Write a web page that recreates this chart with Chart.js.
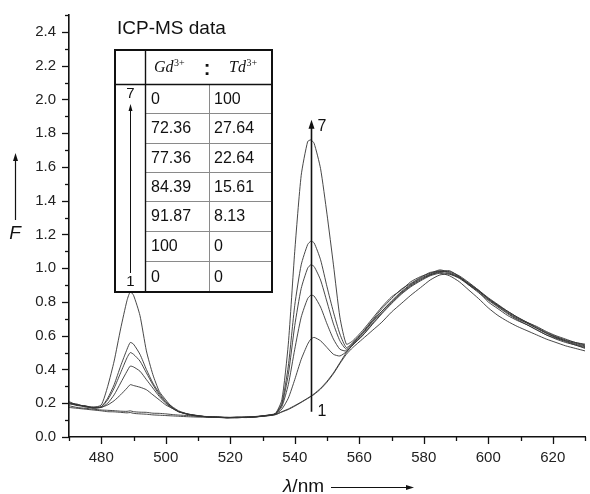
<!DOCTYPE html>
<html>
<head>
<meta charset="utf-8">
<script src="https://cdn.jsdelivr.net/npm/chart.js@4"></script>
<style>
  html, body { margin: 0; padding: 0; background: #fff; }
  #wrap { width: 590px; height: 494px; }
</style>
</head>
<body>
<div id="wrap"><canvas id="chart" width="590" height="494"></canvas></div>
<script>
// emission spectra, λ in nm, F in a.u.
const wavelengths = [
  470, 472.5, 475, 477.5, 480, 482, 484, 486, 488, 489, 490, 492, 494, 496, 498, 500, 502, 504, 507, 510,
  513, 516, 519, 522, 525, 528, 531, 534,
  536, 538, 540, 542, 544, 545, 546, 548, 550, 552, 554, 556,
  558, 561, 564, 567, 570, 573, 576, 579, 582, 585, 588, 591, 594, 597, 600, 603, 606, 609, 612, 615, 618, 621, 624, 627, 630
];

// sample 7 -> 0 : 100
const sample7 = [
  0.21, 0.19, 0.185, 0.175, 0.19, 0.30, 0.45, 0.64, 0.81, 0.86, 0.84, 0.72, 0.51, 0.37, 0.27, 0.22, 0.175, 0.15, 0.135, 0.125,
  0.12, 0.117, 0.115, 0.118, 0.116, 0.12, 0.128, 0.14,
  0.22, 0.55, 1.10, 1.55, 1.75, 1.76, 1.74, 1.59, 1.32, 1.02, 0.71, 0.55,
  0.57, 0.63, 0.70, 0.77, 0.83, 0.87, 0.92, 0.95, 0.97, 0.99, 0.975, 0.95, 0.91, 0.87, 0.82, 0.78, 0.745, 0.71, 0.68, 0.655, 0.625, 0.60, 0.58, 0.56, 0.55
];
// sample 6 -> 72.36 : 27.64
const sample6 = [
  0.20, 0.195, 0.18, 0.178, 0.18, 0.23, 0.31, 0.42, 0.52, 0.56, 0.55, 0.49, 0.40, 0.32, 0.26, 0.21, 0.18, 0.155, 0.135, 0.127,
  0.118, 0.12, 0.114, 0.116, 0.119, 0.121, 0.126, 0.138,
  0.20, 0.42, 0.78, 1.02, 1.14, 1.16, 1.15, 1.05, 0.89, 0.74, 0.61, 0.53,
  0.56, 0.62, 0.69, 0.76, 0.82, 0.875, 0.91, 0.945, 0.975, 0.98, 0.985, 0.95, 0.90, 0.86, 0.80, 0.76, 0.72, 0.69, 0.665, 0.635, 0.605, 0.585, 0.565, 0.545, 0.53
];
// sample 5 -> 77.36 : 22.64
const sample5 = [
  0.205, 0.188, 0.182, 0.172, 0.178, 0.22, 0.29, 0.38, 0.47, 0.50, 0.49, 0.45, 0.38, 0.31, 0.25, 0.205, 0.175, 0.15, 0.133, 0.124,
  0.121, 0.116, 0.117, 0.113, 0.118, 0.12, 0.127, 0.137,
  0.19, 0.37, 0.66, 0.88, 1.0, 1.02, 1.01, 0.93, 0.80, 0.67, 0.57, 0.52,
  0.555, 0.615, 0.685, 0.745, 0.805, 0.86, 0.905, 0.94, 0.965, 0.985, 0.97, 0.945, 0.905, 0.865, 0.815, 0.775, 0.735, 0.70, 0.675, 0.645, 0.615, 0.59, 0.57, 0.555, 0.54
];
// sample 4 -> 84.39 : 15.61
const sample4 = [
  0.195, 0.192, 0.178, 0.175, 0.175, 0.20, 0.25, 0.32, 0.39, 0.42, 0.415, 0.39, 0.34, 0.29, 0.24, 0.20, 0.17, 0.15, 0.136, 0.126,
  0.119, 0.118, 0.116, 0.117, 0.115, 0.122, 0.126, 0.136,
  0.18, 0.31, 0.52, 0.71, 0.82, 0.84, 0.835, 0.77, 0.67, 0.58, 0.52, 0.51,
  0.55, 0.61, 0.68, 0.745, 0.80, 0.855, 0.90, 0.935, 0.96, 0.98, 0.98, 0.955, 0.915, 0.87, 0.825, 0.785, 0.745, 0.71, 0.68, 0.65, 0.62, 0.595, 0.575, 0.56, 0.545
];
// sample 3 -> 91.87 : 8.13
const sample3 = [
  0.20, 0.186, 0.184, 0.17, 0.176, 0.19, 0.215, 0.25, 0.29, 0.31, 0.305, 0.295, 0.28, 0.25, 0.22, 0.19, 0.17, 0.15, 0.134, 0.125,
  0.12, 0.117, 0.114, 0.116, 0.118, 0.119, 0.127, 0.135,
  0.165, 0.23, 0.34, 0.46, 0.55, 0.58, 0.59, 0.57, 0.53, 0.49, 0.48, 0.505,
  0.545, 0.60, 0.67, 0.735, 0.795, 0.85, 0.895, 0.93, 0.96, 0.975, 0.965, 0.94, 0.90, 0.855, 0.81, 0.77, 0.73, 0.695, 0.665, 0.635, 0.605, 0.58, 0.56, 0.545, 0.525
];
// sample 2 -> 100 : 0
const sample2 = [
  0.185, 0.175, 0.17, 0.165, 0.16, 0.158, 0.156, 0.153, 0.152, 0.155, 0.15, 0.147, 0.146, 0.141, 0.14, 0.137, 0.133, 0.13, 0.127, 0.122,
  0.12, 0.118, 0.115, 0.116, 0.117, 0.12, 0.125, 0.133,
  0.148, 0.163, 0.183, 0.205, 0.228, 0.24, 0.252, 0.284, 0.325, 0.375, 0.435, 0.49,
  0.53, 0.58, 0.63, 0.68, 0.74, 0.79, 0.84, 0.885, 0.93, 0.96, 0.965, 0.945, 0.905, 0.865, 0.82, 0.78, 0.74, 0.705, 0.675, 0.645, 0.615, 0.59, 0.57, 0.55, 0.535
];
// sample 1 -> 0 : 0
const sample1 = [
  0.175, 0.17, 0.165, 0.16, 0.155, 0.15, 0.149, 0.146, 0.143, 0.145, 0.14, 0.137, 0.135, 0.131, 0.129, 0.127, 0.125, 0.123, 0.12, 0.118,
  0.117, 0.116, 0.113, 0.115, 0.116, 0.119, 0.124, 0.132,
  0.15, 0.166, 0.186, 0.207, 0.23, 0.242, 0.256, 0.288, 0.33, 0.38, 0.44, 0.50,
  0.545, 0.60, 0.665, 0.73, 0.79, 0.845, 0.89, 0.925, 0.955, 0.97, 0.955, 0.92, 0.87, 0.82, 0.765, 0.72, 0.685, 0.655, 0.63, 0.605, 0.58, 0.56, 0.54, 0.525, 0.51
];

const samples = [sample1, sample2, sample3, sample4, sample5, sample6, sample7];

// inset table (ICP-MS)
const tableTitle = "ICP-MS data";
const gdValues = ["0", "72.36", "77.36", "84.39", "91.87", "100", "0"];
const tdValues = ["100", "27.64", "22.64", "15.61", "8.13", "0", "0"];

// axes
const xMin = 470, xMax = 630, xStep = 10, xLabelStep = 20;
const yMin = 0, yMax = 2.5, yStep = 0.1, yLabelMax = 2.4;
const arrowNm = 545, arrowTopF = 1.88, arrowBottomF = 0.15;

const FONT = '"Liberation Sans", Arial, Helvetica, sans-serif';
const INK = '#111';

function yIsMajor(v) {
  const k = Math.round(v * 10);
  return k % 2 === 0 && k <= Math.round(yLabelMax * 10);
}
function xIsMajor(v) {
  return Math.round(v) % xLabelStep === 0;
}

function arrowHead(ctx, x, y, dir, len, half) {
  // dir: 'up' or 'right'
  ctx.beginPath();
  if (dir === 'up') {
    ctx.moveTo(x, y);
    ctx.lineTo(x - half, y + len);
    ctx.lineTo(x + half, y + len);
  } else {
    ctx.moveTo(x, y);
    ctx.lineTo(x - len, y - half);
    ctx.lineTo(x - len, y + half);
  }
  ctx.closePath();
  ctx.fill();
}

const decor = {
  id: 'decor',
  afterDraw(chart) {
    const ctx = chart.ctx;
    const xs = chart.scales.x, ys = chart.scales.y;
    const area = chart.chartArea;
    ctx.save();
    ctx.strokeStyle = INK;
    ctx.fillStyle = INK;
    ctx.lineWidth = 1.3;

    // tick marks (outward), major longer than minor
    ys.ticks.forEach(t => {
      const y = Math.round(ys.getPixelForValue(t.value)) + 0.5;
      ctx.beginPath();
      ctx.moveTo(area.left, y);
      ctx.lineTo(area.left - (yIsMajor(t.value) ? 7 : 4), y);
      ctx.stroke();
    });
    xs.ticks.forEach(t => {
      const x = Math.round(xs.getPixelForValue(t.value)) + 0.5;
      ctx.beginPath();
      ctx.moveTo(x, area.bottom);
      ctx.lineTo(x, area.bottom + (xIsMajor(t.value) ? 7 : 4));
      ctx.stroke();
    });

    // axis titles
    ctx.textBaseline = 'middle';
    ctx.textAlign = 'center';
    ctx.font = 'italic 19px ' + FONT;
    ctx.fillText('F', 15, 234);
    ctx.lineWidth = 1.2;
    ctx.beginPath(); ctx.moveTo(15.5, 220); ctx.lineTo(15.5, 160); ctx.stroke();
    arrowHead(ctx, 15.5, 153, 'up', 8, 2.5);

    ctx.textAlign = 'left';
    ctx.font = 'italic 19px ' + FONT;
    ctx.fillText('\u03bb', 283, 487);
    const lw = ctx.measureText('\u03bb').width;
    ctx.font = '19px ' + FONT;
    ctx.fillText('/nm', 283 + lw, 487);
    ctx.beginPath(); ctx.moveTo(331, 487.5); ctx.lineTo(406, 487.5); ctx.stroke();
    arrowHead(ctx, 414, 487.5, 'right', 8, 2.5);

    // arrow across the 545 nm band
    const ax = Math.round(xs.getPixelForValue(arrowNm)) + 0.5;
    const aTop = ys.getPixelForValue(arrowTopF);
    const aBot = ys.getPixelForValue(arrowBottomF);
    ctx.lineWidth = 1.6;
    ctx.beginPath(); ctx.moveTo(ax, aBot); ctx.lineTo(ax, aTop + 7); ctx.stroke();
    arrowHead(ctx, ax, aTop, 'up', 9, 3);
    ctx.font = '16px ' + FONT;
    ctx.textAlign = 'left';
    ctx.fillText('7', ax + 6, aTop + 7);
    ctx.fillText('1', ax + 6, aBot);

    // inset table
    const L = 115, R = 272, T = 50, B = 292;
    const c1 = 145.5, c2 = 209.5, hdr = 84;
    const rows = [84, 113, 143, 172, 201, 231, 261, 292];
    ctx.fillStyle = '#fff';
    ctx.fillRect(L, T, R - L, B - T);
    ctx.fillStyle = INK;

    ctx.font = '19px ' + FONT;
    ctx.textAlign = 'left';
    ctx.fillText(tableTitle, 117, 29);

    ctx.strokeStyle = '#8a8a8a';
    ctx.lineWidth = 1;
    for (let i = 1; i < rows.length - 1; i++) {
      ctx.beginPath(); ctx.moveTo(c1, rows[i] + 0.5); ctx.lineTo(R, rows[i] + 0.5); ctx.stroke();
    }
    ctx.beginPath(); ctx.moveTo(c2, hdr); ctx.lineTo(c2, B); ctx.stroke();

    ctx.strokeStyle = INK;
    ctx.lineWidth = 1.4;
    ctx.beginPath(); ctx.moveTo(L, hdr + 0.5); ctx.lineTo(R, hdr + 0.5); ctx.stroke();
    ctx.beginPath(); ctx.moveTo(c1, T); ctx.lineTo(c1, B); ctx.stroke();
    ctx.lineWidth = 2;
    ctx.strokeRect(L, T, R - L, B - T);

    // header Gd3+ : Td3+
    const hy = 68;
    ctx.font = 'italic 16px "Liberation Serif", "Times New Roman", serif';
    ctx.fillText('Gd', 154, hy);
    let w = ctx.measureText('Gd').width;
    ctx.font = '10px "Liberation Serif", "Times New Roman", serif';
    ctx.fillText('3+', 154 + w + 0.5, hy - 5);
    ctx.font = 'italic 16px "Liberation Serif", "Times New Roman", serif';
    ctx.fillText('Td', 229, hy);
    w = ctx.measureText('Td').width;
    ctx.font = '10px "Liberation Serif", "Times New Roman", serif';
    ctx.fillText('3+', 229 + w + 0.5, hy - 5);
    ctx.font = 'bold 20px ' + FONT;
    ctx.textAlign = 'center';
    ctx.fillText(':', 207, hy + 1);

    ctx.font = '16px ' + FONT;
    ctx.textAlign = 'left';
    for (let i = 0; i < gdValues.length; i++) {
      const cy = (rows[i] + rows[i + 1]) / 2 + 1;
      ctx.fillText(gdValues[i], 151, cy);
      ctx.fillText(tdValues[i], 214, cy);
    }

    // 1 -> 7 arrow inside the table
    ctx.textAlign = 'center';
    ctx.font = '15px ' + FONT;
    ctx.fillText('7', 130.5, 94);
    ctx.fillText('1', 130.5, 282);
    ctx.lineWidth = 1;
    ctx.beginPath(); ctx.moveTo(130.5, 273); ctx.lineTo(130.5, 110); ctx.stroke();
    arrowHead(ctx, 130.5, 104, 'up', 7, 2);

    ctx.restore();
  }
};

const datasets = samples.map((s, i) => ({
  label: 'sample ' + (i + 1),
  data: wavelengths.map((x, j) => ({ x: x, y: s[j] })),
  borderColor: '#333',
  borderWidth: 0.9,
  pointRadius: 0,
  tension: 0.2,
  fill: false
}));

new Chart(document.getElementById('chart'), {
  type: 'line',
  data: { datasets },
  plugins: [decor],
  options: {
    responsive: false,
    animation: false,
    devicePixelRatio: 1,
    layout: { padding: { top: 13, right: 0, left: 0, bottom: 0 } },
    plugins: { legend: { display: false }, tooltip: { enabled: false } },
    scales: {
      x: {
        type: 'linear',
        min: xMin, max: xMax,
        afterFit: s => { s.height = 57; },
        grid: { drawOnChartArea: false, drawTicks: true, tickLength: 7, color: 'rgba(0,0,0,0)' },
        border: { display: true, color: INK, width: 1.6 },
        ticks: {
          stepSize: xStep, autoSkip: false, maxRotation: 0, padding: 5,
          color: '#222', font: { family: FONT, size: 15 },
          callback: v => xIsMajor(v) ? String(Math.round(v)) : ''
        }
      },
      y: {
        min: yMin, max: yMax,
        afterFit: s => { s.width = 69; },
        grid: { drawOnChartArea: false, drawTicks: true, tickLength: 7, color: 'rgba(0,0,0,0)' },
        border: { display: true, color: INK, width: 1.6 },
        ticks: {
          stepSize: yStep, autoSkip: false, padding: 6,
          color: '#222', font: { family: FONT, size: 15 },
          callback: v => yIsMajor(v) ? (Math.round(v * 10) / 10).toFixed(1) : ''
        }
      }
    }
  }
});
</script>
</body>
</html>
